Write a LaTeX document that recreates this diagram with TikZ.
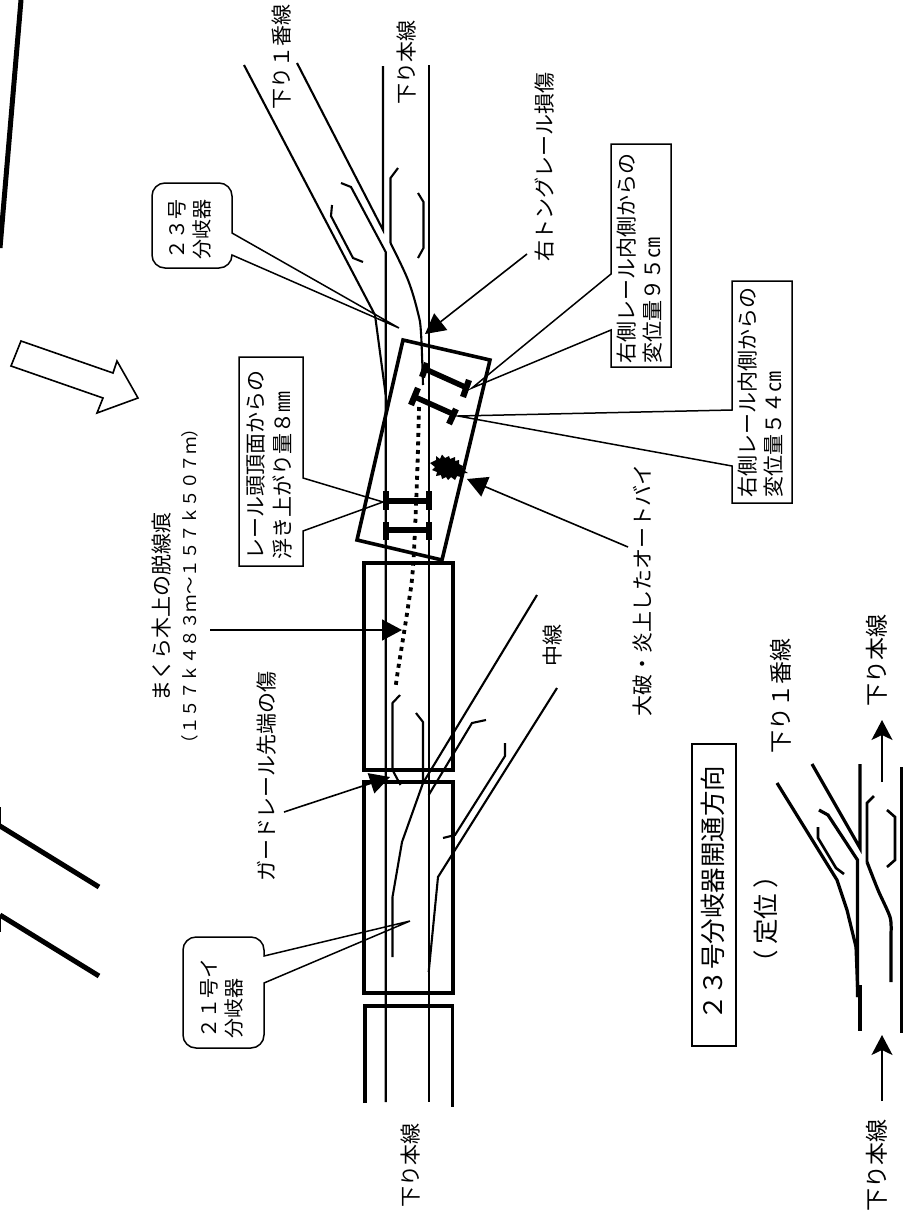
\documentclass[tikz,border=0pt]{standalone}
\usepackage{fontspec}
\setmainfont{Noto Sans CJK JP}
\usetikzlibrary{arrows.meta}
\tikzset{
  railline/.style={line width=2.1pt,line join=miter},
  frame/.style={line width=3.6pt,line join=miter},
  tiebar/.style={line width=5.5pt},
  tiecap/.style={line width=6.2pt},
  heavy/.style={line width=5pt},
  leader/.style={line width=1.5pt,line join=miter},
  keyline/.style={line width=3.2pt,line join=miter},
  ptr/.style={line width=1.6pt,-{Triangle[length=20pt,width=21pt]}},
  ptrs/.style={line width=1.6pt,-{Stealth[length=20pt,width=21pt,inset=5pt]}},
  lab/.style={rotate=90,inner sep=0pt,font=\fontsize{21}{25}\selectfont},
  labb/.style={rotate=90,inner sep=0pt,font=\fontsize{23}{27}\selectfont},
  labc/.style={rotate=90,inner sep=0pt,font=\fontsize{25.5}{29}\selectfont},
  boxt/.style={rotate=90,inner sep=0pt,align=left,font=\fontsize{21}{26}\selectfont},
  callt/.style={rotate=90,inner sep=0pt,align=left,font=\fontsize{20}{25}\selectfont},
  smallt/.style={rotate=90,inner sep=0pt,font=\fontsize{17.5}{20}\selectfont},
  x=1pt,y=-1pt}
\begin{document}
\begin{tikzpicture}
\useasboundingbox (0,0) rectangle (906,1213);
% --- labels
\node[lab] (l1) at (282,57) {下り１番線};
\node[lab] (l2) at (407,62) {下り本線};
\node[lab] (l3) at (545,167) {右トングレール損傷};
\node[lab] (l4) at (162,607) {まくら木上の脱線痕};
\node[smallt] (l5) at (190,586) {（１５７ｋ４８３ｍ～１５７ｋ５０７ｍ）};
\node[lab] (l6) at (267,776) {ガードレール先端の傷};
\node[lab] (l7) at (643,590) {大破・炎上したオートバイ};
\node[lab] (l8) at (553,645) {中線};
\node[lab] (l9) at (411,1165) {下り本線};
\node[boxt] (b1) at (269.5,465) {レール頭頂面からの\\浮き上がり量８㎜};
\node[boxt] (b2) at (640,258) {右側レール内側からの\\変位量９５㎝};
\node[boxt] (b3) at (761,392) {右側レール内側からの\\変位量５４㎝};
\node[callt] (c23) at (190,229) {２３号\\分岐器};
\node[callt] (c21) at (222,998) {２１号イ\\分岐器};
\node[labc] (t1) at (713,893) {２３号分岐器開通方向};
\node[labc] (t2) at (766,919) {（\kern5pt 定位\kern5pt ）};
\node[labb] (t3) at (781,696) {下り１番線};
\node[labb] (t4) at (877,660) {下り本線};
\node[labb] (t5) at (877,1165) {下り本線};
% --- heavy background strokes
\draw[heavy] (21,0) -- (0,248);
\draw[heavy] (0,826) -- (99,887);
\draw[heavy] (0,915) -- (99,976);
\draw[line width=1pt] (0.5,807) -- (0.5,826) (0.5,915) -- (0.5,932);
% --- hollow arrow
\draw[line width=1.6pt,line join=miter] (21,341) -- (113,373) -- (117,361) -- (138,398) -- (97,413) -- (103,398) -- (11,366) -- cycle;
% --- main rails
\draw[railline] (383,66) -- (383,230) -- (297,63);
\draw[railline] (385.7,1102) -- (385.7,252) -- (351,187) -- (341,183);
\draw[railline] (428.7,65) -- (428.7,1102);
\draw[railline] (244,65) -- (375,315) -- (385.7,395);
\draw[railline] (332,205) -- (331,216) -- (353,258) -- (363,262);
\draw[railline] (398,168) -- (390.5,178) -- (390.5,243);
\draw[railline] plot[smooth,tension=0.6] coordinates {(390.5,243) (408,280) (418,313) (421,333) (423,385)};
\draw[railline] (418,193) -- (423.5,202) -- (423.5,248) -- (418,258);
% --- lower rails
\draw[railline] (400,695) -- (392.5,703) -- (392.5,770) -- (400.5,785);
\draw[railline] (416,713) -- (423,722) -- (423,782);
\draw[railline] (537,595) -- (423,783) -- (402,842) -- (392.5,897) -- (392.5,957);
\draw[railline] (428.7,795) -- (472,723) -- (486,720);
\draw[railline] (505,743) -- (505,756) -- (455,835) -- (443,838);
\draw[railline] (557,688) -- (438,877) -- (428.7,972);
% --- frames
\draw[frame] (403,340) -- (490,360) -- (442,560) -- (357,540) -- cycle;
\draw[frame] (364,563) rectangle (452.7,770);
\draw[frame] (364,782) rectangle (452.7,993);
\draw[frame] (365,1103) -- (365,1006) -- (452.5,1006) -- (452.5,1107);
% --- tie bars
\draw[tiebar] (425,369) -- (465,387);
\draw[tiecap] (427,363) -- (422,377);
\draw[tiecap] (469,380) -- (463,397);
\draw[tiebar] (415,397) -- (453,414);
\draw[tiecap] (418,388) -- (411,405);
\draw[tiecap] (456,409) -- (449,424);
\draw[tiebar] (385.7,501) -- (429,501);
\draw[tiecap] (385.7,491) -- (385.7,510);
\draw[tiecap] (429,491) -- (429,510);
\draw[tiebar] (385.7,530) -- (429,530);
\draw[tiecap] (385.7,522) -- (385.7,540);
\draw[tiecap] (429,522) -- (429,540);
% --- derailment trace
\draw[line width=3.8pt,dash pattern=on 4pt off 4.6pt] plot[smooth,tension=0.6] coordinates {(419,407) (417,480) (413,567) (408,607) (398,670) (395.5,688)};
% --- burnt motorcycle
\fill (430,463) -- (436,460) -- (436,456) -- (440,459) -- (442,454.5) -- (445,458) -- (449,456) -- (450,459) -- (455,457) -- (455,461) -- (459,460) -- (459,464) -- (463,466) -- (462,469) -- (468,473) -- (462,473) -- (461,477) -- (457,476) -- (455,480) -- (451,477) -- (448,480) -- (446,477) -- (442,479) -- (441,475) -- (436,476) -- (437,472) -- (432,470) -- (435,467) -- cycle;
% --- pointer arrows
\coordinate (a1s) at (527,254); \coordinate (a1t) at (425,334);
\coordinate (a2s) at (284,812); \coordinate (a2t) at (390,777);
\coordinate (a3s) at (210,630); \coordinate (a3t) at (402,630);
\coordinate (a4s) at (628,547); \coordinate (a4t) at (467,479);
\draw[ptr] (a1s) -- (a1t);
\draw[ptr] (a2s) -- (a2t);
\draw[ptr] (a3s) -- (a3t);
\draw[ptr] (a4s) -- (a4t);
% --- callout boxes
\draw[leader] (239,357) -- (303,357) -- (303,478) -- (383,502) -- (303,531) -- (303,566) -- (239,566) -- cycle;
\draw[leader] (611,144) -- (671,144) -- (671,367) -- (611,367) -- (611,330) -- (472,388) -- (611,274) -- cycle;
\draw[leader] (732,281) -- (792,281) -- (792,503) -- (732,503) -- (732,466) -- (458,416) -- (732,410) -- cycle;
\draw[leader] (232,233) -- (399,328) -- (232,255) [rounded corners=13pt] -- (232,268) -- (152,268) -- (152,183) -- (232,183) [sharp corners] -- cycle;
\draw[leader] (264,956) -- (410,921) -- (264,983) [rounded corners=13pt] -- (264,1048) -- (183,1048) -- (183,937) -- (264,937) [sharp corners] -- cycle;
\draw[line width=1.7pt] (692,744) rectangle (736,1046);
% --- key diagram
\draw[keyline] (860,764) -- (860,848) -- (812,764);
\draw[keyline] (860,985) -- (860,1031);
\draw[keyline] (901.7,767) -- (901.7,1033);
\draw[keyline] (819,810) -- (828,815) -- (857.5,860) -- (857.5,997);
\draw[keyline] (777,783) -- (837,880) -- (847,910) -- (856,947) -- (858,997);
\draw[line width=2.6pt] (818,827) -- (818,838) -- (836,868) -- (844,874);
\draw[line width=2.6pt] (874,796) -- (867,803) -- (867,862);
\draw[keyline] plot[smooth,tension=0.5] coordinates {(867,862) (878,890) (890,917) (891,933)} -- (891,982);
\draw[line width=2.6pt] (887,810) -- (895,817) -- (895,860) -- (887,867);
\coordinate (k1s) at (882,782); \coordinate (k1t) at (882,720);
\coordinate (k2s) at (882,1101); \coordinate (k2t) at (882,1035);
\draw[ptrs] (k1s) -- (k1t);
\draw[ptrs] (k2s) -- (k2t);
\end{tikzpicture}
\end{document}
